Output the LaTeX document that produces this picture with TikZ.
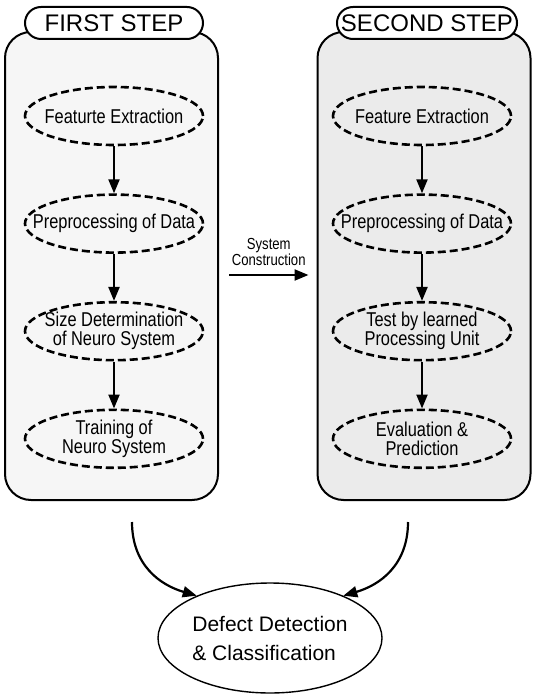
\documentclass[tikz,border=0pt]{standalone}
\usepackage{fontspec}
\setmainfont{Liberation Sans}
\newfontfamily\narrowfont[FakeStretch=0.82]{Liberation Sans}
\usetikzlibrary{positioning,shapes.geometric,arrows.meta}

\begin{document}
\begin{tikzpicture}[x=0.5pt,y=-0.5pt,
					>={Triangle[length=7pt,width=5.5pt]},
					auto,
					node distance=23.5pt,
					thick,
					panel/.style={draw,line width=1pt,rounded corners=13pt,minimum width=106.5pt,minimum height=234pt},
					title node/.style={draw,line width=1pt,fill=white,rounded corners=8pt,minimum width=89pt,minimum height=16pt,inner xsep=2pt,font=\fontsize{12}{14}\selectfont},
					step node/.style={ellipse,draw,dash pattern=on 4pt off 2pt,line width=1.3pt,minimum width=89pt,minimum height=29pt,inner xsep=-12pt,inner ysep=0pt,align=center,font=\narrowfont\fontsize{10}{9.5}\selectfont}]

  \useasboundingbox (0,0) rectangle (534,695);

  % the two steps
  \node[panel,fill=gray!7]  (P1) at (111.5,266) {};
  \node[panel,fill=gray!16] (P2) at (424,266) {};
  \node[title node] (T1) at (114,23) {FIRST STEP};
  \node[title node] (T2) at (427,23) {SECOND STEP};

  \node[step node] (A1) at (114,116) {Featurte Extraction};
  \node[step node] (A2) [below=of A1] {Preprocessing of Data};
  \node[step node] (A3) [below=of A2] {Size Determination\\of Neuro System};
  \node[step node] (A4) [below=of A3] {Training of\\Neuro System};

  \node[step node] (B1) at (422,116) {Feature Extraction};
  \node[step node] (B2) [below=of B1] {Preprocessing of Data};
  \node[step node] (B3) [below=of B2] {Test by learned\\Processing Unit};
  \node[step node] (B4) [below=of B3] {Evaluation \&\\Prediction};

  % result
  \node[ellipse,draw,line width=0.7pt,minimum width=112pt,minimum height=55pt,inner sep=0pt,align=left,font=\fontsize{10.5}{14.5}\selectfont] (R) at (270,638) {Defect Detection\\\& Classification};
  \coordinate (C1) at (132,522);
  \coordinate (C2) at (408,522);

  \path[->,line width=1.1pt]
    (A1) edge (A2)
    (A2) edge (A3)
    (A3) edge (A4)
    (B1) edge (B2)
    (B2) edge (B3)
    (B3) edge (B4);

  \draw[->,line width=1.1pt] ([xshift=5pt,yshift=-4.5pt]P1.east) -- node[above=1pt,align=center,font=\narrowfont\fontsize{8}{8}\selectfont] {System\\Construction} ([xshift=-4pt,yshift=-4.5pt]P2.west);

  \draw[->,line width=1.1pt] (C1) .. controls (132,565) and (160,585) .. (R.150);
  \draw[->,line width=1.1pt] (C2) .. controls (408,565) and (380,585) .. (R.30);
\end{tikzpicture}
\end{document}
